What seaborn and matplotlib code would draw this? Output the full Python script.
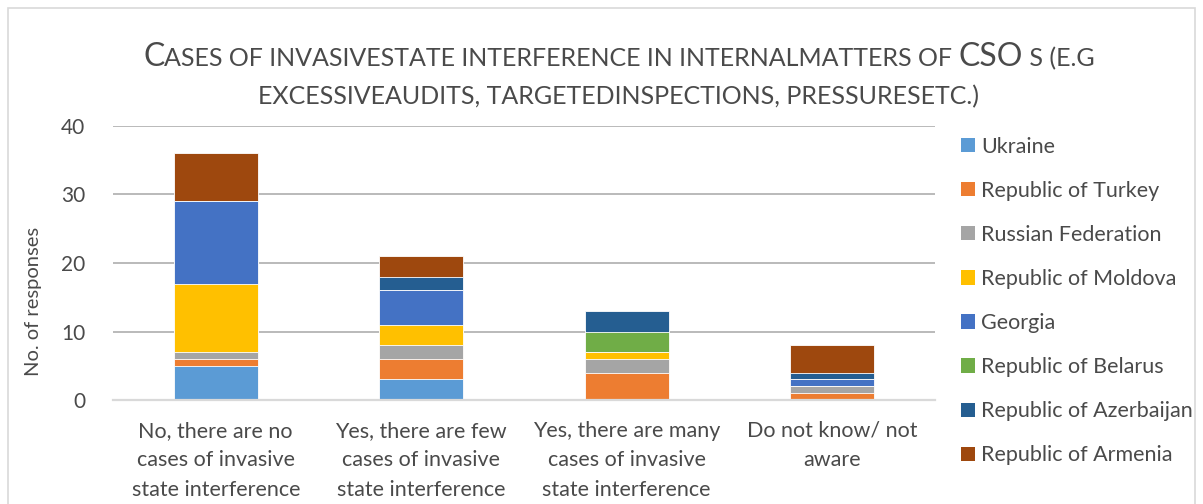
import matplotlib
matplotlib.use("Agg")
import matplotlib.pyplot as plt
import seaborn as sns
import pandas as pd
import numpy as np
from matplotlib.patches import Patch, Rectangle

categories = ["No, there are no\ncases of invasive\nstate interference",
              "Yes, there are few\ncases of invasive\nstate interference",
              "Yes, there are many\ncases of invasive\nstate interference",
              "Do not know/ not\naware"]
countries = ["Ukraine", "Republic of Turkey", "Russian Federation", "Republic of Moldova",
             "Georgia", "Republic of Belarus", "Republic of Azerbaijan", "Republic of Armenia"]
ukraine = [5, 3, 0, 0]
turkey = [1, 3, 4, 1]
russia = [1, 2, 2, 1]
moldova = [10, 3, 1, 0]
georgia = [12, 5, 0, 1]
belarus = [0, 0, 3, 0]
azerbaijan = [0, 2, 3, 1]
armenia = [7, 3, 0, 4]
series = [ukraine, turkey, russia, moldova, georgia, belarus, azerbaijan, armenia]
colors = ["#5B9BD5", "#ED7D31", "#A5A5A5", "#FFC000", "#4472C4", "#70AD47", "#255E91", "#9E480E"]
yticks = [0, 10, 20, 30, 40]

sns.set_style("white")
plt.rcParams["font.family"] = ["Lato", "DejaVu Sans"]
TXT = "#4A4A4A"

fig = plt.figure(figsize=(12.03, 5.04), dpi=100)
ax = fig.add_axes([113/1203, 1-400/504, (935-113)/1203, 274/504])

cum = np.cumsum(np.array(series), axis=0)
# draw from the tallest cumulative layer down so each segment shows
for i in range(len(series) - 1, -1, -1):
    df = pd.DataFrame({"cat": categories, "val": cum[i]})
    sns.barplot(data=df, x="cat", y="val", color=colors[i], width=0.41,
                edgecolor="white", linewidth=0.6, saturation=1, ax=ax, zorder=3)

ax.set_xlim(-0.5, 3.5)
ax.set_ylim(0, 40)
ax.set_yticks(yticks)
ax.yaxis.grid(True, color="#B4B4B4", lw=1.3, zorder=0)
ax.set_axisbelow(True)
for s in ["top", "right", "left"]:
    ax.spines[s].set_visible(False)
ax.spines["bottom"].set_color("#D9D9D9")
ax.spines["bottom"].set_linewidth(1.6)
ax.spines["bottom"].set_zorder(4)
ax.tick_params(axis="y", length=0, pad=20, labelsize=15, labelcolor=TXT)
ax.tick_params(axis="x", length=0, pad=15, labelsize=15.5, labelcolor=TXT)
for t in ax.get_xticklabels():
    t.set_linespacing(1.6)
ax.set_xlabel("")
ax.set_ylabel("No. of responses", fontsize=14.5, color=TXT)
ax.yaxis.set_label_coords(-0.086, 0.36)

handles = [Patch(facecolor=c, edgecolor="none") for c in colors]
leg = fig.legend(handles, countries, loc="upper left", bbox_to_anchor=(952/1203, 1-128/504),
                 frameon=False, fontsize=15.5, labelcolor=TXT, handlelength=0.65, handleheight=0.65,
                 handletextpad=0.3, labelspacing=1.12, borderaxespad=0)

# chart border
fig.patches.append(Rectangle((8/1203, -0.01), 1187/1203, 1-8/504 + 0.01, transform=fig.transFigure,
                             fill=False, edgecolor="#D9D9D9", lw=1.2))

# title with small-caps imitation
BIG, SMALL = 23, 18
line1 = [("C", BIG), ("ASES OF INVASIVESTATE INTERFERENCE IN INTERNALMATTERS OF ", SMALL),
         ("CSO", BIG), (" S (E.G", SMALL)]
line2 = [("EXCESSIVEAUDITS, TARGETEDINSPECTIONS, PRESSURESETC.)", SMALL)]
fig.canvas.draw()
r = fig.canvas.get_renderer()

def draw_line(segs, ybase, xc=619):
    texts = []
    for s, sz in segs:
        t = fig.text(0, 1 - ybase/504, s, fontsize=sz, color=TXT, va="baseline", ha="left")
        texts.append(t)
    widths = [t.get_window_extent(r).width for t in texts]
    x = xc - sum(widths)/2
    for t, w in zip(texts, widths):
        t.set_x(x/1203)
        x += w

draw_line(line1, 66)
draw_line(line2, 104)

fig.savefig("out.png", dpi=100)
